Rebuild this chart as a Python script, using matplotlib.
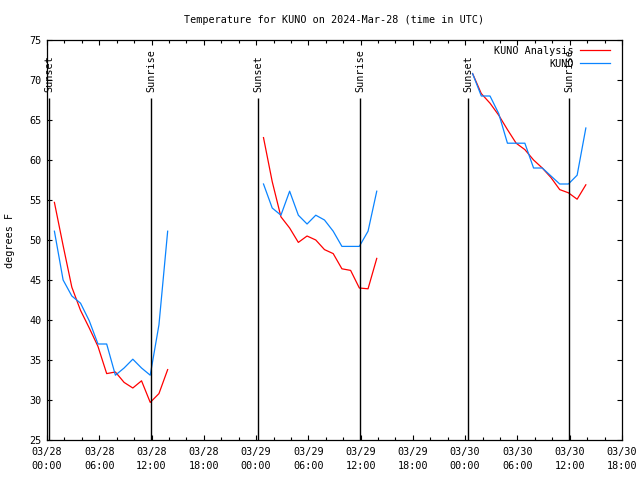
import matplotlib
matplotlib.use("Agg")
import matplotlib.pyplot as plt
import matplotlib.dates as mdates
import pandas as pd

# hourly values, one segment per night (first ob at 00:51 UTC)
day_starts = ["2024-03-28 00:51", "2024-03-29 00:51", "2024-03-30 00:51"]

analysis = [
    [54.7, 49.3, 44.1, 41.2, 39.0, 36.7, 33.3, 33.5, 32.2, 31.5, 32.4, 29.7, 30.8, 33.8],
    [62.8, 57.3, 52.9, 51.5, 49.7, 50.5, 50.0, 48.8, 48.3, 46.4, 46.2, 44.0, 43.9, 47.7],
    [70.8, 68.3, 67.1, 65.6, 63.8, 62.1, 61.3, 60.0, 59.0, 57.8, 56.3, 55.9, 55.1, 56.9],
]
station = [
    [51.1, 45.0, 43.0, 42.1, 39.9, 37.0, 37.0, 33.1, 34.0, 35.1, 34.0, 33.1, 39.4, 51.1],
    [57.0, 54.0, 53.1, 56.1, 53.1, 52.0, 53.1, 52.5, 51.1, 49.2, 49.2, 49.2, 51.1, 56.1],
    [70.8, 68.0, 68.0, 65.8, 62.1, 62.1, 62.1, 59.0, 59.0, 58.0, 57.0, 57.0, 58.1, 64.0],
]

sunsets = ["2024-03-28 00:16", "2024-03-29 00:15", "2024-03-30 00:20"]
sunrises = ["2024-03-28 11:56", "2024-03-29 11:56", "2024-03-30 11:57"]

fs = 7.3
plt.rcParams['font.family'] = ['DejaVu Sans Mono']
plt.rcParams['font.size'] = fs

fig = plt.figure(figsize=(6.4, 4.8), dpi=100)
ax = fig.add_axes([47/640, 40/480, 575/640, 400/480])

for i in range(3):
    t = pd.date_range(day_starts[i], periods=len(analysis[i]), freq="h")
    ax.plot(t, analysis[i], color="#ff0000", lw=0.9,
            label="KUNO Analysis" if i == 0 else None)
    ax.plot(t, station[i], color="#0a84ff", lw=0.9,
            label="KUNO" if i == 0 else None)

for s in sunsets:
    ts = pd.Timestamp(s)
    ax.vlines(ts, 25, 67.8, color="k", lw=1)
    ax.text(ts, 68.5, "Sunset", rotation=90, ha="center", va="bottom")
for s in sunrises:
    ts = pd.Timestamp(s)
    ax.vlines(ts, 25, 67.8, color="k", lw=1)
    ax.text(ts, 68.5, "Sunrise", rotation=90, ha="center", va="bottom")

ax.set_xlim(pd.Timestamp("2024-03-28 00:00"), pd.Timestamp("2024-03-30 18:00"))
ax.set_ylim(25, 75)
ax.xaxis.set_major_locator(mdates.HourLocator(byhour=range(0, 24, 6)))
ax.xaxis.set_minor_locator(mdates.HourLocator(byhour=range(0, 24, 2)))
ax.xaxis.set_major_formatter(mdates.DateFormatter("%m/%d\n%H:%M"))
ax.set_yticks(range(25, 80, 5))
ax.tick_params(which="both", direction="in", top=True, right=True, labelsize=fs)
ax.tick_params(which="major", length=3.3, width=0.8, pad=5)
ax.tick_params(which="minor", length=2.2, width=0.8)
ax.tick_params(axis="y", pad=4)
for lab in ax.get_xticklabels():
    lab.set_linespacing(1.55)
for sp in ax.spines.values():
    sp.set_linewidth(0.9)

ax.set_title("Temperature for KUNO on 2024-Mar-28 (time in UTC)", fontsize=fs, pad=12.5)
ax.set_ylabel("degrees F", fontsize=fs, labelpad=10)

ax.legend(loc="upper right", bbox_to_anchor=(0.979, 0.985), markerfirst=False,
          frameon=False, borderpad=0, borderaxespad=0, handlelength=3.0,
          handletextpad=0.6, labelspacing=0.3, fontsize=fs)

fig.savefig("out.png", dpi=100)
